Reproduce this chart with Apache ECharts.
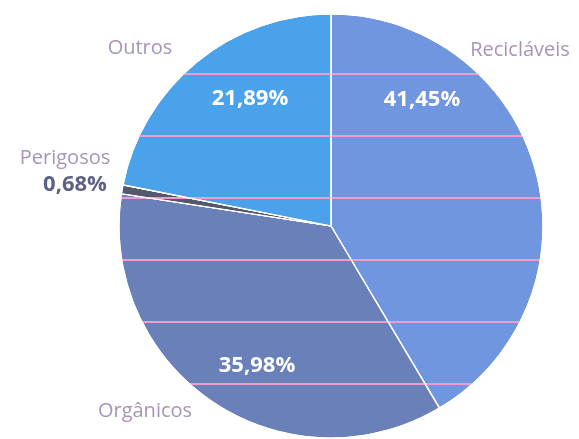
<!DOCTYPE html>
<html>
<head>
<meta charset="utf-8">
<script src="https://cdn.jsdelivr.net/npm/echarts@6/dist/echarts.min.js"></script>
<style>
html,body{margin:0;padding:0;background:#fff;}
#c{width:579px;height:439px;}
</style>
</head>
<body>
<div id="c"></div>
<script>
var categories = ['Recicláveis', 'Orgânicos', 'Perigosos', 'Outros'];
var values = [41.45, 35.98, 0.68, 21.89];
var percentLabels = ['41,45%', '35,98%', '0,68%', '21,89%'];

var sliceColors = ['#6f96de', '#6a80b8', '#55596e', '#4aa3ea'];
var percentPos = [[422, 100], [257, 366], [75, 185], [250, 99]];
var percentColors = ['#ffffff', '#ffffff', '#5c6185', '#ffffff'];
var namePos = [[520, 50], [145, 411], [65, 158], [140, 48]];

var chart = echarts.init(document.getElementById('c'));
var stripeDecal = {
  symbol: 'rect',
  symbolSize: 1,
  color: '#f29ccb',
  dashArrayX: [10, 0],
  dashArrayY: [0, 11, 2, 49],
  rotation: 0
};
var pieData = categories.map(function (n, i) {
  return {
    name: n,
    value: values[i],
    itemStyle: { color: sliceColors[i] },
    label: { color: percentColors[i] }
  };
});
chart.setOption({
  animation: false,
  series: [
    {
      type: 'pie',
      center: [331, 226],
      radius: [0, 212],
      startAngle: 90,
      clockwise: true,
      data: pieData,
      itemStyle: { borderColor: '#ffffff', borderWidth: 1.2, decal: stripeDecal },
      labelLine: { show: false },
      label: {
        show: true,
        position: 'inside',
        fontFamily: 'Open Sans',
        fontWeight: 'bold',
        fontSize: 22,
        overflow: 'none',
        formatter: function (p) { return percentLabels[p.dataIndex]; }
      },
      labelLayout: function (p) {
        var i = p.dataIndex;
        return { x: percentPos[i][0], y: percentPos[i][1], align: 'center', verticalAlign: 'middle', hideOverlap: false };
      },
      emphasis: { disabled: true }
    },
    {
      type: 'pie',
      center: [331, 226],
      radius: [0, 212],
      startAngle: 90,
      clockwise: true,
      silent: true,
      data: categories.map(function (n, i) { return { name: n, value: values[i] }; }),
      itemStyle: { color: 'rgba(0,0,0,0)', borderWidth: 0 },
      labelLine: { show: false },
      avoidLabelOverlap: false,
      label: {
        show: true,
        position: 'inside',
        fontFamily: 'Open Sans',
        fontSize: 20,
        color: '#a794b8',
        overflow: 'none',
        formatter: '{b}'
      },
      labelLayout: function (p) {
        var i = p.dataIndex;
        return { x: namePos[i][0], y: namePos[i][1], align: 'center', verticalAlign: 'middle', hideOverlap: false };
      },
      emphasis: { disabled: true }
    }
  ]
});
</script>
</body>
</html>
